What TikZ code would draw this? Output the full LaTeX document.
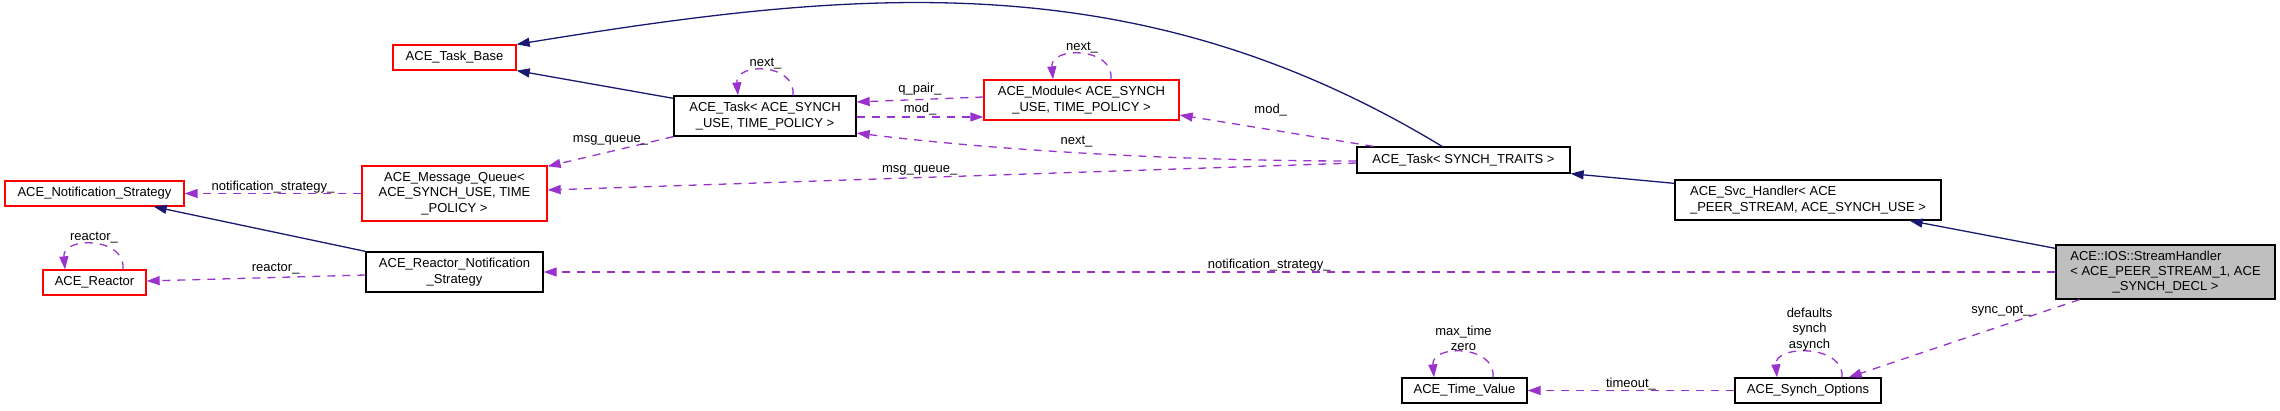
\documentclass[tikz,border=0pt]{standalone}
\usepackage{fontspec}
\setmainfont{Liberation Sans}
\usetikzlibrary{arrows.meta}
\definecolor{baseblue}{HTML}{191970}
\definecolor{useviolet}{HTML}{9A32CD}
\definecolor{maingrey}{HTML}{BFBFBF}

\begin{document}
\begin{tikzpicture}[x=1pt, y=-1pt,
		box/.style={draw=black, line width=1.3pt, inner sep=0pt, align=center, font=\fontsize{13}{15.3}\selectfont},
		redbox/.style={box, draw=red},
		inherit/.style={draw=baseblue, line width=1.3pt, -{Triangle[length=13pt,width=9pt]}},
		uses/.style={draw=useviolet, line width=1.3pt, dash pattern=on 8pt off 7pt, -{Triangle[length=13pt,width=9pt]}},
		lbl/.style={inner sep=0pt, align=center, font=\fontsize{13}{15.3}\selectfont}]
		%%%%% START %%%%%
		
		\useasboundingbox (0, 0) rectangle (2280, 410);
		
		\node[redbox, minimum width=123pt, minimum height=25pt] (taskbase) at (454.5, 57.5) {ACE\_Task\_Base};
		\node[box, minimum width=182pt, minimum height=40pt] (tasksynch) at (765, 116) {ACE\_Task< ACE\_SYNCH\\\_USE, TIME\_POLICY >};
		\node[redbox, minimum width=195pt, minimum height=40pt] (module) at (1081.5, 100) {ACE\_Module< ACE\_SYNCH\\\_USE, TIME\_POLICY >};
		\node[redbox, minimum width=179pt, minimum height=25pt] (notify) at (94.5, 193.5) {ACE\_Notification\_Strategy};
		\node[redbox, minimum width=185pt, minimum height=55pt] (msgqueue) at (454.5, 193.5) {ACE\_Message\_Queue<\\ACE\_SYNCH\_USE, TIME\\\_POLICY >};
		\node[redbox, minimum width=103pt, minimum height=25pt] (reactor) at (94.5, 282.5) {ACE\_Reactor};
		\node[box, minimum width=177pt, minimum height=40pt] (reactnotify) at (454.5, 272) {ACE\_Reactor\_Notification\\\_Strategy};
		\node[box, minimum width=213pt, minimum height=26pt] (tasktraits) at (1463.5, 160) {ACE\_Task< SYNCH\_TRAITS >};
		\node[box, align=left, minimum width=266pt, minimum height=40pt] (svchandler) at (1808, 200) {ACE\_Svc\_Handler< ACE\\\_PEER\_STREAM, ACE\_SYNCH\_USE >};
		\node[box, fill=maingrey, minimum width=219pt, minimum height=54pt] (stream) at (2165.5, 272) {\rlap{ACE::IOS::StreamHandler}\phantom{< ACE\_PEER\_STREAM\_1, ACE}\\< ACE\_PEER\_STREAM\_1, ACE\\\_SYNCH\_DECL >};
		\node[box, minimum width=125pt, minimum height=25pt] (timeval) at (1464.5, 390.5) {ACE\_Time\_Value};
		\node[box, minimum width=146pt, minimum height=25pt] (synchopt) at (1808, 390.5) {ACE\_Synch\_Options};
		
		% base classes
		\draw[inherit] ([xshift=-21.5pt]tasktraits.north) .. controls +(-308,-187) and +(333,-54) .. (taskbase.north east);
		\draw[inherit] ([yshift=-3pt]tasksynch.north west) -- (taskbase.south east);
		\draw[inherit] (reactnotify.north west) -- ([xshift=-31pt]notify.south east);
		\draw[inherit] ([yshift=-4pt]svchandler.north west) -- (tasktraits.south east);
		\draw[inherit] ([yshift=-4pt]stream.north west) -- ([xshift=-32pt]svchandler.south east);
		
		% members
		\draw[uses] ([yshift=3pt]module.west) -- node[lbl, above=4pt] {q\_pair\_} ([yshift=14pt]tasksynch.east);
		\draw[uses] ([yshift=-1pt]tasksynch.east) -- node[lbl, above=1pt] {mod\_} ([yshift=-17pt]module.west);
		\draw[uses] ([xshift=29.5pt]module.north) .. controls +(3,-33) and +(-3,-33) .. node[lbl, above=1pt] {next\_} ([xshift=-28.5pt]module.north);
		\draw[uses] ([xshift=28pt]tasksynch.north) .. controls +(3,-33) and +(-3,-33) .. node[lbl, above=1pt] {next\_} ([xshift=-27pt]tasksynch.north);
		\draw[uses] (tasksynch.south west) -- node[lbl, above=6pt] {msg\_queue\_} ([yshift=-1pt]msgqueue.north east);
		
		\draw[uses] ([xshift=17pt]tasktraits.north west) -- node[lbl, above=13pt, pos=0.53] {mod\_} ([yshift=-15pt]module.east);
		\draw[uses] ([yshift=-1pt]tasktraits.west) .. controls +(-200,0) and +(120,15) .. node[lbl, above=5pt] {next\_} ([yshift=-17pt]tasksynch.east);
		\draw[uses] ([yshift=-3pt]tasktraits.west) -- node[lbl, above=2pt, pos=0.54] {msg\_queue\_} ([yshift=3.5pt]msgqueue.east);
		
		\draw[uses] (msgqueue.west) -- node[lbl, above] {notification\_strategy\_} (notify.east);
		\draw[uses] ([yshift=-3pt]reactnotify.west) -- node[lbl, above=3pt, pos=0.41] {reactor\_} ([yshift=1.5pt]reactor.east);
		\draw[uses] ([xshift=28.5pt]reactor.north) .. controls +(3,-33) and +(-3,-33) .. node[lbl, above=1pt] {reactor\_} ([xshift=-29.5pt]reactor.north);
		
		\draw[uses] (stream.west) -- node[lbl, above, pos=0.52] {notification\_strategy\_} (reactnotify.east);
		\draw[uses] ([xshift=24pt]stream.south west) -- node[lbl, above=9pt, pos=0.34] {sync\_opt\_} ([xshift=-33pt]synchopt.north east);
		\draw[uses] ([xshift=34pt]synchopt.north) .. controls +(3,-33) and +(-3,-33) .. node[lbl, above=1pt] {defaults\\synch\\asynch} ([xshift=-31pt]synchopt.north);
		\draw[uses] (synchopt.west) -- node[lbl, above] {timeout\_} (timeval.east);
		\draw[uses] ([xshift=28.5pt]timeval.north) .. controls +(3,-33) and +(-3,-33) .. node[lbl, above=1pt] {max\_time\\zero} ([xshift=-30.5pt]timeval.north);
		
		%%%%% END %%%%%
	\end{tikzpicture}
\end{document}
